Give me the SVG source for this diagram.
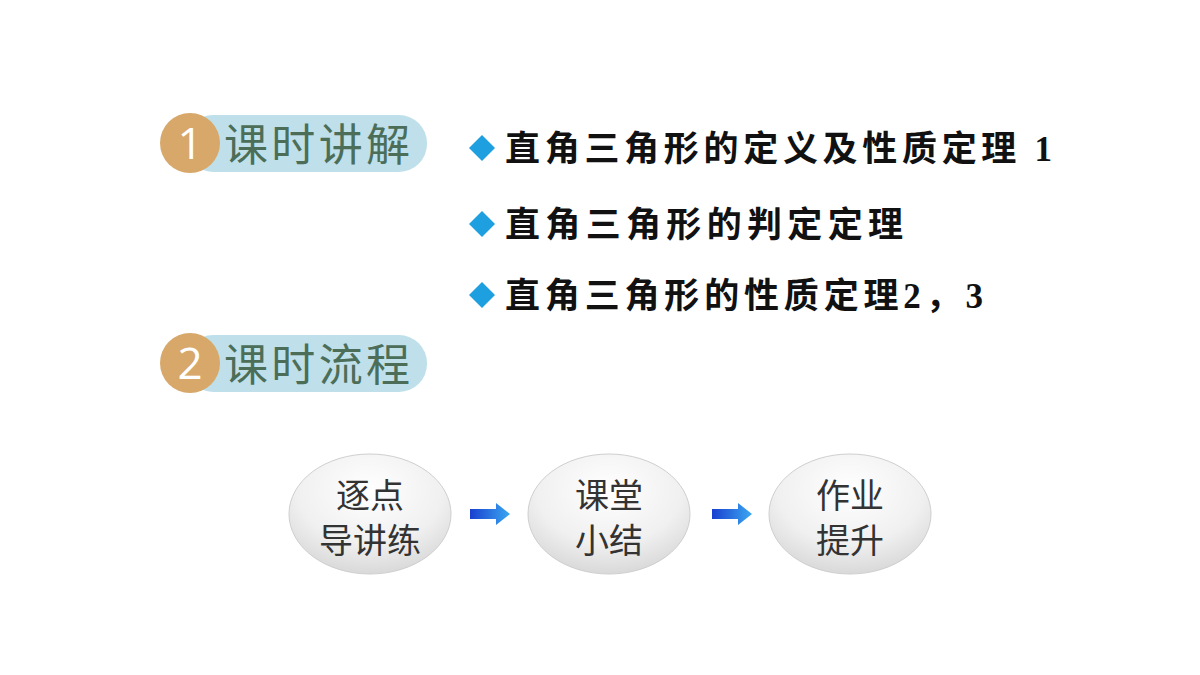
<svg xmlns="http://www.w3.org/2000/svg" width="1200" height="675" viewBox="0 0 1200 675">
<defs>
<radialGradient id="eg" cx="0.5" cy="0.3" r="0.75">
<stop offset="0" stop-color="#ffffff"/><stop offset="0.6" stop-color="#f0f0f0"/><stop offset="1" stop-color="#d4d4d4"/>
</radialGradient>
<linearGradient id="ag" x1="0" x2="1" y1="0" y2="0">
<stop offset="0" stop-color="#1a3fd0"/><stop offset="1" stop-color="#3aa8f0"/>
</linearGradient>
<style>
.pill{fill:#bfe0ea}
.badge{fill:#d7a869}
.num{font-family:"Open Sans","Liberation Sans",sans-serif;font-size:44px;fill:#fff;text-anchor:middle}
.head{font-family:"Noto Sans CJK SC",sans-serif;font-size:44px;fill:#4c6e58}
.item{font-family:"Liberation Serif","Noto Sans CJK SC",serif;font-weight:bold;font-size:35px;fill:#111}
.dia{fill:#1ea0e0}
.ell{fill:url(#eg);stroke:#cfcfcf;stroke-width:1}
.lbl{font-family:"Noto Sans CJK SC",sans-serif;font-size:34px;fill:#333;text-anchor:middle}
.arr{fill:url(#ag)}
</style>
</defs>
<rect width="1200" height="675" fill="#fff"/>
<g id="h1">
<rect class="pill" x="185" y="115" width="242" height="57" rx="28"/>
<circle class="badge" cx="190" cy="143" r="30"/>
<text class="num" x="190" y="159">1</text>
<text class="head" x="224" y="161" textLength="186">课时讲解</text>
</g>
<g id="h2">
<rect class="pill" x="185" y="335" width="242" height="57" rx="28"/>
<circle class="badge" cx="190" cy="363" r="30"/>
<text class="num" x="190" y="379">2</text>
<text class="head" x="224" y="381" textLength="186">课时流程</text>
</g>
<g id="items">
<polygon class="dia" points="482,135 495,148 482,161 469,148"/>
<text class="item" x="505" y="161" textLength="547">直角三角形的定义及性质定理 1</text>
<polygon class="dia" points="482,211 495,224 482,237 469,224"/>
<text class="item" x="505" y="237" textLength="398">直角三角形的判定定理</text>
<polygon class="dia" points="482,282 495,295 482,308 469,295"/>
<text class="item" x="505" y="308" textLength="478">直角三角形的性质定理2，3</text>
</g>
<g id="n1"><ellipse class="ell" cx="370" cy="514" rx="81" ry="60"/>
<text class="lbl" x="370" y="508">逐点</text><text class="lbl" x="370" y="553">导讲练</text></g>
<g id="n2"><ellipse class="ell" cx="609" cy="514" rx="81" ry="60"/>
<text class="lbl" x="609" y="508">课堂</text><text class="lbl" x="609" y="553">小结</text></g>
<g id="n3"><ellipse class="ell" cx="850" cy="514" rx="81" ry="60"/>
<text class="lbl" x="850" y="508">作业</text><text class="lbl" x="850" y="553">提升</text></g>
<g id="connectors">
<polygon class="arr" points="470,509 496,509 496,503 510,514 496,525 496,519 470,519"/>
<polygon class="arr" points="712,509 738,509 738,503 752,514 738,525 738,519 712,519"/>
</g>
</svg>
